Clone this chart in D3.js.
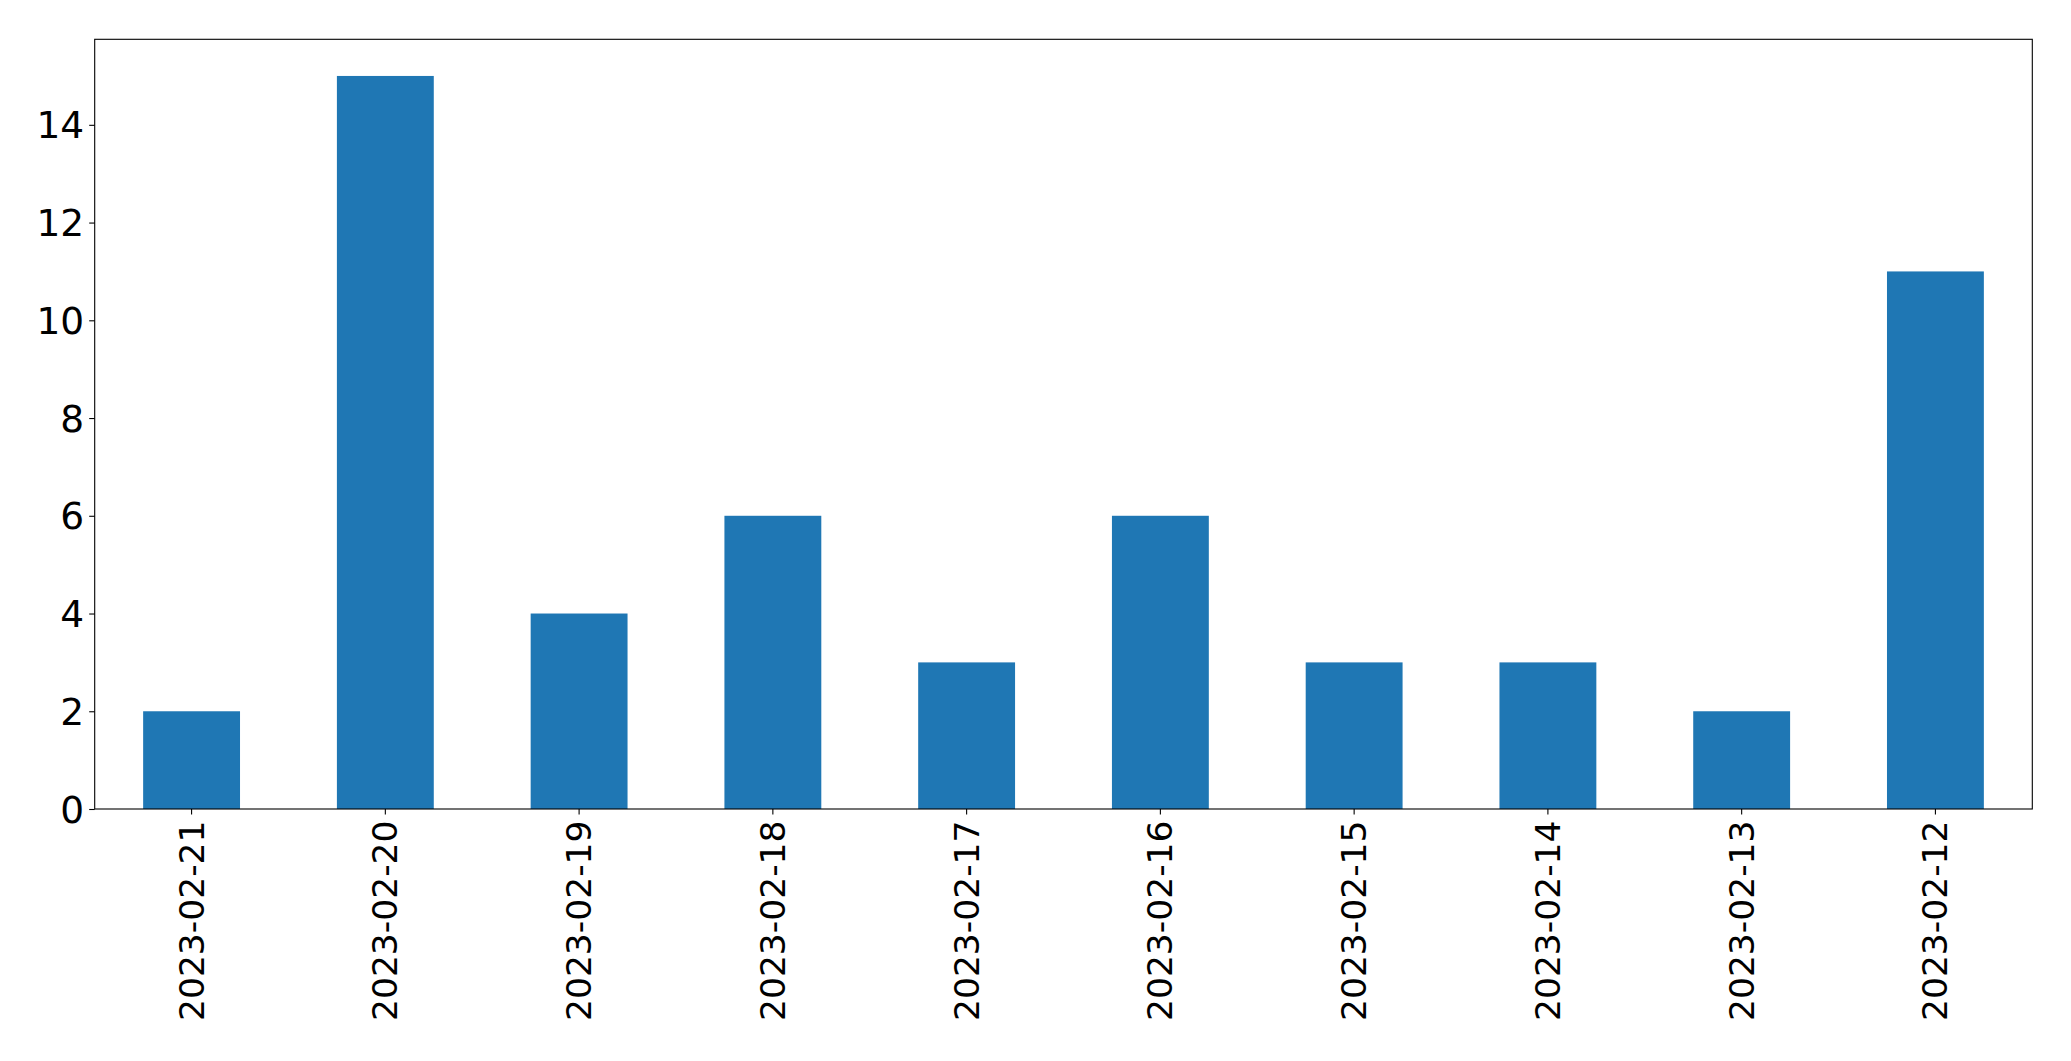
<!DOCTYPE html>
<html>
<head>
<meta charset="utf-8">
<script src="https://cdn.jsdelivr.net/npm/d3@7"></script>
<style>
  html, body { margin: 0; padding: 0; background: #fff; }
  svg { display: block; }
</style>
</head>
<body>
<svg id="chart" width="2071" height="1061"></svg>
<script>
const categories = ["2023-02-21","2023-02-20","2023-02-19","2023-02-18","2023-02-17","2023-02-16","2023-02-15","2023-02-14","2023-02-13","2023-02-12"];
const values = [2, 15, 4, 6, 3, 6, 3, 3, 2, 11];
const yTicks = [0, 2, 4, 6, 8, 10, 12, 14];
const yMax = 15.75;

(function () {
  const plotL = 94.7, plotR = 2032.3, plotT = 39.3, plotB = 809;
  const yFont = 37.5, xFont = 34.5;
  const tickLen = 5.5;

  const svg = d3.select("#chart");
  const x = d3.scaleBand().domain(categories).range([plotL, plotR]).paddingInner(0.5).paddingOuter(0.25);
  const y = d3.scaleLinear().domain([0, yMax]).range([plotB, plotT]);

  // bars
  svg.append("g").selectAll("rect").data(categories).join("rect")
    .attr("x", d => x(d))
    .attr("width", x.bandwidth())
    .attr("y", (d, i) => y(values[i]))
    .attr("height", (d, i) => y(0) - y(values[i]))
    .attr("fill", "#1f77b4");

  // y axis
  const yAxis = d3.axisLeft(y).tickValues(yTicks).tickSize(tickLen).tickPadding(5).tickFormat(d3.format("d"));
  const gy = svg.append("g").attr("transform", `translate(${plotL},0)`).call(yAxis);
  gy.select(".domain").remove();
  gy.selectAll(".tick line").attr("stroke", "#000").attr("stroke-width", 1.1);
  gy.selectAll(".tick text")
    .attr("font-family", "DejaVu Sans")
    .attr("font-size", yFont)
    .attr("fill", "#000")
    .attr("dy", null)
    .attr("dominant-baseline", "central");

  // x axis
  const xAxis = d3.axisBottom(x).tickSize(tickLen).tickPadding(0);
  const gx = svg.append("g").attr("transform", `translate(0,${plotB})`).call(xAxis);
  gx.select(".domain").remove();
  gx.selectAll(".tick line").attr("stroke", "#000").attr("stroke-width", 1.1);
  gx.selectAll(".tick text")
    .attr("font-family", "DejaVu Sans")
    .attr("font-size", xFont)
    .attr("fill", "#000")
    .attr("dy", null)
    .attr("y", null)
    .attr("text-anchor", "end")
    .attr("dominant-baseline", "central")
    .attr("transform", `translate(0,${tickLen + 6}) rotate(-90)`);

  // frame (spines)
  svg.append("rect")
    .attr("x", plotL).attr("y", plotT)
    .attr("width", plotR - plotL).attr("height", plotB - plotT)
    .attr("fill", "none").attr("stroke", "#000").attr("stroke-width", 1.1);
})();
</script>
</body>
</html>
